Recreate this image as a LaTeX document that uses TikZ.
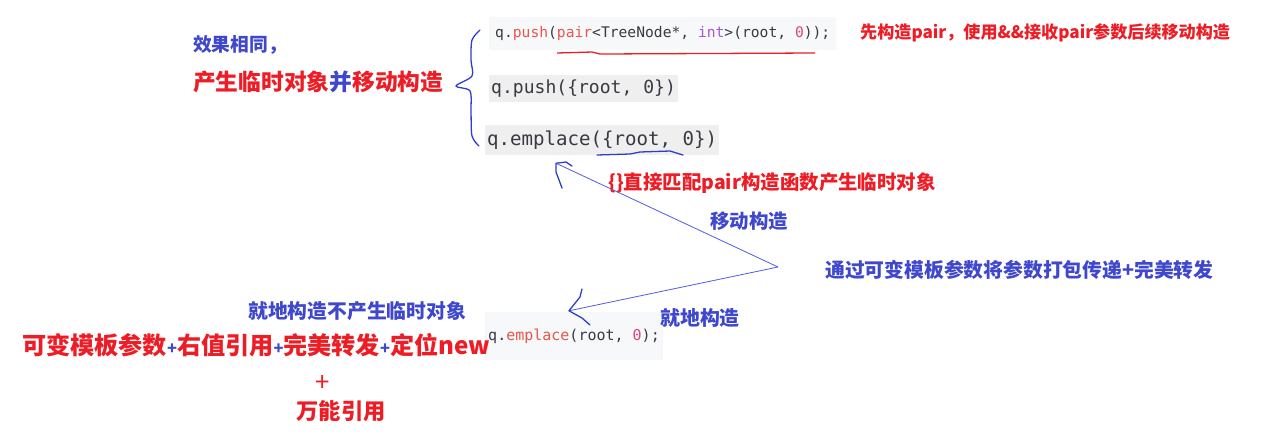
\documentclass[tikz,border=0pt]{standalone}
\usepackage{fontspec}
\usetikzlibrary{arrows.meta, positioning, calc}
\setmainfont{Noto Sans CJK SC}
\newfontfamily\codefont{DejaVu Sans Mono}
\definecolor{mBlue}{HTML}{3F48CC}
\definecolor{mRed}{HTML}{EE1C25}
\definecolor{mPen}{HTML}{2F3DCF}
\definecolor{mLine}{HTML}{5560DD}
\definecolor{cDark}{HTML}{383A42}
\definecolor{cRed}{HTML}{E8574B}
\definecolor{cPurple}{HTML}{A855D6}
\definecolor{cPink}{HTML}{E0457B}
\definecolor{cBgA}{HTML}{F6F8FA}
\definecolor{cBgB}{HTML}{EFEFEF}
\newcommand{\fs}[1]{\fontsize{#1}{#1}\selectfont}

\begin{document}
\begin{tikzpicture}[x=0.03cm, y=-0.03cm,
      note/.style={anchor=west, inner sep=0pt, font=\bfseries},
      codebox/.style={anchor=west, inner ysep=0pt, inner xsep=0.06cm,
                      text=cDark},
      pen/.style={mPen, line width=1.1pt, line cap=round, line join=round}]
    \useasboundingbox[fill=white] (0,0) rectangle (1280,438);
    % left notes
    \node[note, text=mBlue, font=\bfseries\fs{16}] (same) at (193,45) {效果相同，};
    \node[note, text=mRed, font=\bfseries\fs{19.4}] (temp) at (193,82)
      {产生临时对象\textcolor{mBlue}{并}移动构造};
    % code lines
    \node[codebox, fill=cBgA, minimum height=0.99cm, inner xsep=0.18cm,
          font=\codefont\fs{12.5}] (push1) at (489,33.5)
      {q.\textcolor{cRed}{push}(\textcolor{cRed}{pair}<TreeNode*, \textcolor{cPurple}{int}>(root, \textcolor{cPink}{0}));};
    \node[codebox, fill=cBgB, minimum height=0.81cm,
          font=\codefont\fs{15.4}] (push2) at (489,88.5) {q.push(\{root, 0\})};
    \node[codebox, fill=cBgB, minimum height=0.9cm,
          font=\codefont\fs{16.3}] (emp1) at (485,140) {q.emplace(\{root, 0\})};
    \node[codebox, fill=cBgA, minimum height=1.44cm, inner xsep=0.09cm,
          font=\codefont\fs{12.8}] (emp2) at (485,336)
      {q.\textcolor{cRed}{emplace}(root, \textcolor{cPink}{0});};
    % right notes
    \node[note, text=mRed, font=\bfseries\fs{14.6}] (pairnote) at (860,33)
      {先构造pair，使用\&\&接收pair参数后续移动构造};
    \node[note, text=mRed, font=\bfseries\fs{16.6}] (match) at (608,183)
      {\{\}直接匹配pair构造函数产生临时对象};
    \node[note, text=mBlue, font=\bfseries\fs{16.6}] (move) at (710,221) {移动构造};
    \node[note, text=mBlue, font=\bfseries\fs{16.9}] (pack) at (825,270)
      {通过可变模板参数将参数打包传递+完美转发};
    \node[note, text=mBlue, font=\bfseries\fs{17}] (inplace) at (660,318) {就地构造};
    \node[note, text=mBlue, font=\bfseries\fs{16.9}] (notemp) at (248,311)
      {就地构造不产生临时对象};
    \node[note, text=mRed, font=\bfseries\fs{20.6}] (combo) at (22,345)
      {可变模板参数\textcolor{mBlue}{\fs{14}+}右值引用\textcolor{mBlue}{\fs{14}+}完美转发\textcolor{mBlue}{\fs{14}+}定位new};
    \node[inner sep=0pt, text=mRed, font=\fs{22}] (plus) at (323,383) {+};
    \node[inner sep=0pt, text=mRed, font=\bfseries\fs{19}] (univ) at (341,411) {万能引用};
    % hand drawn marks
    \draw[pen] plot[smooth, tension=0.5] coordinates
      {(480,30) (472,40) (471,60) (472,76) (456,86) (470,91) (471,112) (472,136) (479,146)};
    \draw[mRed, line width=1.1pt] (557,53) -- (592,52) -- (600,54) -- (815,53);
    \draw[pen] (597,155) -- (630,154) -- (640,152) -- (670,151) -- (683,155);
    \coordinate (fork) at (778,267);
    \coordinate (tipA) at ([shift={(71,8)}]emp1.south west);
    \coordinate (tipB) at ([shift={(84,-1)}]emp2.north west);
    \draw[mLine, line width=0.7pt] (fork) -- (tipA);
    \draw[mLine, line width=0.7pt] (fork) -- (tipB);
    \draw[pen] (562,188) -- (556,172) -- (tipA) -- (566,162) -- (572,166);
    \draw[pen] (582,289) -- (580,297) -- (tipB) -- (582,318) -- (590,325);
\end{tikzpicture}
\end{document}
